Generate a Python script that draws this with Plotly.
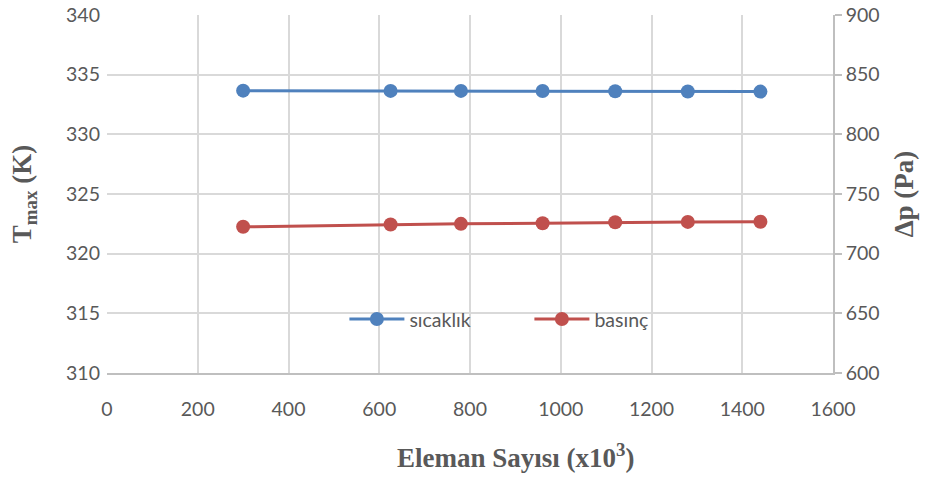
import plotly.graph_objects as go

# Mesh element counts (x10^3) and the two monitored quantities
eleman = [300, 625, 780, 960, 1120, 1280, 1440]
sicaklik = [333.66, 333.64, 333.64, 333.63, 333.61, 333.59, 333.58]
basinc = [722.5, 724.5, 725.0, 725.5, 726.3, 726.6, 726.8]

x_ticks = [0, 200, 400, 600, 800, 1000, 1200, 1400, 1600]
y_ticks = [310, 315, 320, 325, 330, 335, 340]
y2_ticks = [600, 650, 700, 750, 800, 850, 900]

BLUE = "#4f81bd"
RED = "#c0504d"
GRID = "#d9d9d9"
AXIS = "#bfbfbf"
TXT = "#595959"
tick_font = dict(family="Lato", size=19.5, color=TXT)
title_font = dict(family="Liberation Serif", size=27, color=TXT)

fig = go.Figure()
fig.add_trace(go.Scatter(
    x=eleman, y=sicaklik, name="sıcaklık", mode="lines+markers",
    line=dict(color=BLUE, width=3), marker=dict(color=BLUE, size=14),
))
fig.add_trace(go.Scatter(
    x=eleman, y=basinc, name="basınç", mode="lines+markers", yaxis="y2",
    line=dict(color=RED, width=3), marker=dict(color=RED, size=14),
))

fig.update_layout(
    width=927, height=477,
    margin=dict(l=107, r=94, t=15, b=104),
    paper_bgcolor="white", plot_bgcolor="white",
    showlegend=True,
    legend=dict(
        orientation="h", x=0.327, y=0.15, xanchor="left", yanchor="middle",
        font=tick_font, bgcolor="rgba(0,0,0,0)", itemwidth=55,
        entrywidth=115,
    ),
    xaxis=dict(
        range=[0, 1600], tickvals=x_ticks, ticktext=[str(v) for v in x_ticks],
        showgrid=True, gridcolor=GRID, gridwidth=1.5, zeroline=False,
        showline=True, linecolor=AXIS, linewidth=1.5, automargin=False,
        ticks="", tickfont=tick_font, ticklabelstandoff=18,
    ),
    yaxis=dict(
        range=[310, 340], tickvals=y_ticks, ticktext=[str(v) for v in y_ticks],
        showgrid=True, gridcolor=GRID, gridwidth=1.5, zeroline=False,
        showline=False, ticks="", tickfont=tick_font, ticklabelstandoff=6,
        automargin=False,
        title=dict(text="<b>T<sub>max</sub> (K)</b>", font=title_font, standoff=26),
    ),
    yaxis2=dict(
        range=[600, 900], tickvals=y2_ticks, ticktext=[str(v) for v in y2_ticks],
        overlaying="y", side="right", showgrid=False, zeroline=False,
        showline=True, linecolor=AXIS, linewidth=1.5, automargin=False,
        ticks="outside", ticklen=7, tickcolor=AXIS, tickwidth=1.5,
        tickfont=tick_font,
        title=dict(text="<b>Δp (Pa)</b>", font=title_font, standoff=16),
    ),
    annotations=[dict(
        text="<b>Eleman Sayısı (x10<sup>3</sup>)</b>", font=title_font,
        xref="paper", yref="paper", x=0.563, y=-0.232,
        xanchor="center", yanchor="middle", showarrow=False,
    )],
)

fig.write_html("out.html")
